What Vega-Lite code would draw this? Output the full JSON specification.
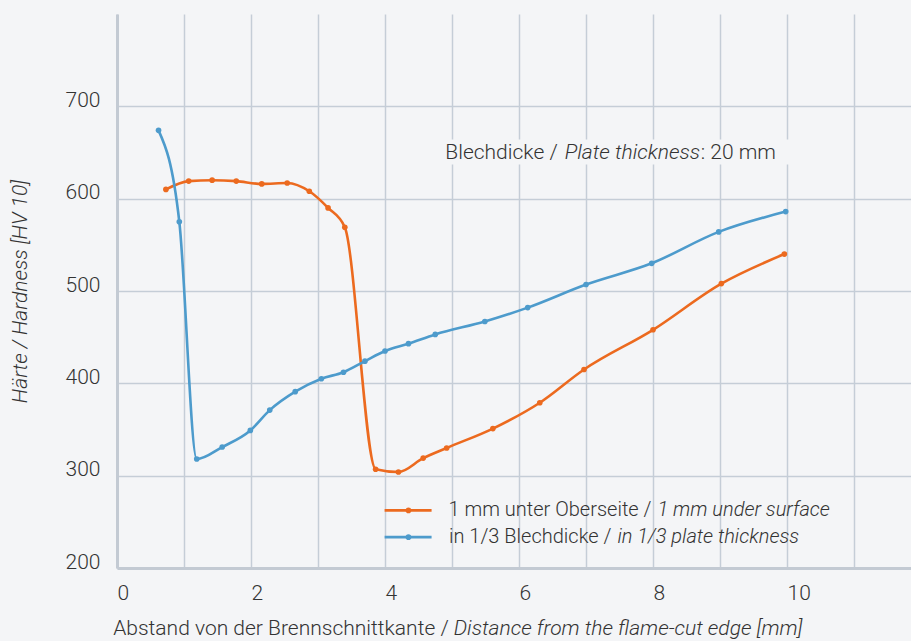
{
  "$schema": "https://vega.github.io/schema/vega-lite/v6.json",
  "width": 794,
  "height": 554,
  "autosize": {"type": "none"},
  "padding": {"left": 117, "top": 14, "right": 0, "bottom": 73},
  "background": "#f4f5f7",
  "config": {
    "view": {"stroke": null},
    "font": "Roboto",
    "text": {"font": "Roboto", "fontSize": 21, "fontWeight": 300, "color": "#333333"}
  },
  "datasets": {
    "one": [{}],
    "hardness": [
      {"series": "1 mm unter Oberseite / 1 mm under surface", "distance": 0.73, "hardness": 610},
      {"series": "1 mm unter Oberseite / 1 mm under surface", "distance": 1.07, "hardness": 619},
      {"series": "1 mm unter Oberseite / 1 mm under surface", "distance": 1.42, "hardness": 620},
      {"series": "1 mm unter Oberseite / 1 mm under surface", "distance": 1.78, "hardness": 619},
      {"series": "1 mm unter Oberseite / 1 mm under surface", "distance": 2.16, "hardness": 616},
      {"series": "1 mm unter Oberseite / 1 mm under surface", "distance": 2.54, "hardness": 617},
      {"series": "1 mm unter Oberseite / 1 mm under surface", "distance": 2.87, "hardness": 608},
      {"series": "1 mm unter Oberseite / 1 mm under surface", "distance": 3.15, "hardness": 590},
      {"series": "1 mm unter Oberseite / 1 mm under surface", "distance": 3.40, "hardness": 569},
      {"series": "1 mm unter Oberseite / 1 mm under surface", "distance": 3.86, "hardness": 307},
      {"series": "1 mm unter Oberseite / 1 mm under surface", "distance": 4.20, "hardness": 304},
      {"series": "1 mm unter Oberseite / 1 mm under surface", "distance": 4.57, "hardness": 319},
      {"series": "1 mm unter Oberseite / 1 mm under surface", "distance": 4.92, "hardness": 330},
      {"series": "1 mm unter Oberseite / 1 mm under surface", "distance": 5.61, "hardness": 351},
      {"series": "1 mm unter Oberseite / 1 mm under surface", "distance": 6.31, "hardness": 379},
      {"series": "1 mm unter Oberseite / 1 mm under surface", "distance": 6.97, "hardness": 415},
      {"series": "1 mm unter Oberseite / 1 mm under surface", "distance": 8.00, "hardness": 458},
      {"series": "1 mm unter Oberseite / 1 mm under surface", "distance": 9.02, "hardness": 508},
      {"series": "1 mm unter Oberseite / 1 mm under surface", "distance": 9.96, "hardness": 540},
      {"series": "in 1/3 Blechdicke / in 1/3 plate thickness", "distance": 0.62, "hardness": 674},
      {"series": "in 1/3 Blechdicke / in 1/3 plate thickness", "distance": 0.93, "hardness": 575},
      {"series": "in 1/3 Blechdicke / in 1/3 plate thickness", "distance": 1.19, "hardness": 318},
      {"series": "in 1/3 Blechdicke / in 1/3 plate thickness", "distance": 1.57, "hardness": 331},
      {"series": "in 1/3 Blechdicke / in 1/3 plate thickness", "distance": 1.99, "hardness": 349},
      {"series": "in 1/3 Blechdicke / in 1/3 plate thickness", "distance": 2.28, "hardness": 371},
      {"series": "in 1/3 Blechdicke / in 1/3 plate thickness", "distance": 2.66, "hardness": 391},
      {"series": "in 1/3 Blechdicke / in 1/3 plate thickness", "distance": 3.05, "hardness": 405},
      {"series": "in 1/3 Blechdicke / in 1/3 plate thickness", "distance": 3.38, "hardness": 412},
      {"series": "in 1/3 Blechdicke / in 1/3 plate thickness", "distance": 3.70, "hardness": 424},
      {"series": "in 1/3 Blechdicke / in 1/3 plate thickness", "distance": 4.00, "hardness": 435},
      {"series": "in 1/3 Blechdicke / in 1/3 plate thickness", "distance": 4.35, "hardness": 443},
      {"series": "in 1/3 Blechdicke / in 1/3 plate thickness", "distance": 4.75, "hardness": 453},
      {"series": "in 1/3 Blechdicke / in 1/3 plate thickness", "distance": 5.49, "hardness": 467},
      {"series": "in 1/3 Blechdicke / in 1/3 plate thickness", "distance": 6.13, "hardness": 482},
      {"series": "in 1/3 Blechdicke / in 1/3 plate thickness", "distance": 7.00, "hardness": 507},
      {"series": "in 1/3 Blechdicke / in 1/3 plate thickness", "distance": 7.98, "hardness": 530},
      {"series": "in 1/3 Blechdicke / in 1/3 plate thickness", "distance": 8.98, "hardness": 564},
      {"series": "in 1/3 Blechdicke / in 1/3 plate thickness", "distance": 9.98, "hardness": 586}
    ]
  },
  "layer": [
    {
      "data": {"name": "hardness"},
      "mark": {"type": "line", "interpolate": "monotone", "strokeWidth": 2.6, "point": {"filled": true, "size": 32}},
      "encoding": {
        "x": {
          "field": "distance", "type": "quantitative",
          "scale": {"domain": [0, 11.85], "nice": false, "zero": false},
          "axis": {
            "title": null,
            "values": [0, 1, 2, 3, 4, 5, 6, 7, 8, 9, 10, 11],
            "format": "d",
            "labelExpr": "datum.value % 2 == 0 ? datum.label : ''",
            "grid": true, "gridColor": "#c5cdd7", "gridWidth": 1.5,
            "domain": true, "domainColor": "#c3cad3", "domainWidth": 3,
            "ticks": false,
            "labelAlign": "left", "labelBaseline": "top", "labelPadding": 14, "labelDx": 2,
            "labelFontSize": 21, "labelFontWeight": 300, "labelColor": "#333333", "labelFont": "Roboto"
          }
        },
        "y": {
          "field": "hardness", "type": "quantitative",
          "scale": {"domain": [200, 800], "nice": false, "zero": false},
          "axis": {
            "title": "Härte / Hardness [HV 10]",
            "titleFontStyle": "italic", "titleFontWeight": 300, "titleFontSize": 21, "titleFont": "Roboto", "titleColor": "#333333",
            "titleX": -97, "titleY": 277, "titleAngle": -90, "titleAlign": "center", "titleBaseline": "middle",
            "values": [200, 300, 400, 500, 600, 700],
            "grid": true, "gridColor": "#c5cdd7", "gridWidth": 1.5,
            "domain": true, "domainColor": "#c3cad3", "domainWidth": 3,
            "ticks": false,
            "labelAlign": "right", "labelBaseline": "alphabetic", "labelPadding": 17,
            "labelFontSize": 21, "labelFontWeight": 300, "labelColor": "#333333", "labelFont": "Roboto"
          }
        },
        "color": {
          "field": "series", "type": "nominal",
          "scale": {"domain": ["1 mm unter Oberseite / 1 mm under surface", "in 1/3 Blechdicke / in 1/3 plate thickness"], "range": ["#ec6a1f", "#4d9bcc"]},
          "legend": null
        }
      }
    },
    {
      "data": {"name": "one"},
      "mark": {"type": "rect", "color": "#f4f5f7"},
      "encoding": {
        "x": {"datum": 4.85, "type": "quantitative"},
        "x2": {"datum": 10.05},
        "y": {"datum": 664, "type": "quantitative"},
        "y2": {"datum": 637}
      }
    },
    {
      "data": {"name": "one"},
      "mark": {"type": "text", "align": "right", "baseline": "middle"},
      "encoding": {
        "x": {"datum": 6.578, "type": "quantitative"},
        "y": {"datum": 649, "type": "quantitative"},
        "text": {"value": "Blechdicke /"}
      }
    },
    {
      "data": {"name": "one"},
      "mark": {"type": "text", "align": "left", "baseline": "middle", "fontStyle": "italic", "dx": 7},
      "encoding": {
        "x": {"datum": 6.578, "type": "quantitative"},
        "y": {"datum": 649, "type": "quantitative"},
        "text": {"value": "Plate thickness"}
      }
    },
    {
      "data": {"name": "one"},
      "mark": {"type": "text", "align": "left", "baseline": "middle"},
      "encoding": {
        "x": {"datum": 8.713, "type": "quantitative"},
        "y": {"datum": 649, "type": "quantitative"},
        "text": {"value": ": 20 mm"}
      }
    },
    {
      "data": {"name": "one"},
      "mark": {"type": "rule", "color": "#ec6a1f", "strokeWidth": 2.6},
      "encoding": {
        "x": {"datum": 3.994, "type": "quantitative"},
        "x2": {"datum": 4.695},
        "y": {"datum": 262.4, "type": "quantitative"}
      }
    },
    {
      "data": {"name": "one"},
      "mark": {"type": "point", "filled": true, "size": 32, "color": "#ec6a1f", "opacity": 1},
      "encoding": {
        "x": {"datum": 4.35, "type": "quantitative"},
        "y": {"datum": 262.4, "type": "quantitative"}
      }
    },
    {
      "data": {"name": "one"},
      "mark": {"type": "rule", "color": "#4d9bcc", "strokeWidth": 2.6},
      "encoding": {
        "x": {"datum": 3.994, "type": "quantitative"},
        "x2": {"datum": 4.695},
        "y": {"datum": 233.4, "type": "quantitative"}
      }
    },
    {
      "data": {"name": "one"},
      "mark": {"type": "point", "filled": true, "size": 32, "color": "#4d9bcc", "opacity": 1},
      "encoding": {
        "x": {"datum": 4.35, "type": "quantitative"},
        "y": {"datum": 233.4, "type": "quantitative"}
      }
    },
    {
      "data": {"name": "one"},
      "mark": {"type": "text", "align": "right", "baseline": "middle", "fontSize": 20},
      "encoding": {
        "x": {"datum": 7.977, "type": "quantitative"},
        "y": {"datum": 262.4, "type": "quantitative"},
        "text": {"value": "1 mm unter Oberseite /"}
      }
    },
    {
      "data": {"name": "one"},
      "mark": {"type": "text", "align": "left", "baseline": "middle", "fontStyle": "italic", "dx": 6, "fontSize": 20},
      "encoding": {
        "x": {"datum": 7.977, "type": "quantitative"},
        "y": {"datum": 262.4, "type": "quantitative"},
        "text": {"value": "1 mm under surface"}
      }
    },
    {
      "data": {"name": "one"},
      "mark": {"type": "text", "align": "right", "baseline": "middle", "fontSize": 20},
      "encoding": {
        "x": {"datum": 7.379, "type": "quantitative"},
        "y": {"datum": 233.4, "type": "quantitative"},
        "text": {"value": "in 1/3 Blechdicke /"}
      }
    },
    {
      "data": {"name": "one"},
      "mark": {"type": "text", "align": "left", "baseline": "middle", "fontStyle": "italic", "dx": 6, "fontSize": 20},
      "encoding": {
        "x": {"datum": 7.379, "type": "quantitative"},
        "y": {"datum": 233.4, "type": "quantitative"},
        "text": {"value": "in 1/3 plate thickness"}
      }
    },
    {
      "data": {"name": "one"},
      "mark": {"type": "text", "align": "right", "baseline": "alphabetic"},
      "encoding": {
        "x": {"datum": 4.951, "type": "quantitative"},
        "y": {"datum": 127, "type": "quantitative"},
        "text": {"value": "Abstand von der Brennschnittkante /"}
      }
    },
    {
      "data": {"name": "one"},
      "mark": {"type": "text", "align": "left", "baseline": "alphabetic", "fontStyle": "italic", "dx": 5},
      "encoding": {
        "x": {"datum": 4.951, "type": "quantitative"},
        "y": {"datum": 127, "type": "quantitative"},
        "text": {"value": "Distance from the flame-cut edge [mm]"}
      }
    }
  ]
}
